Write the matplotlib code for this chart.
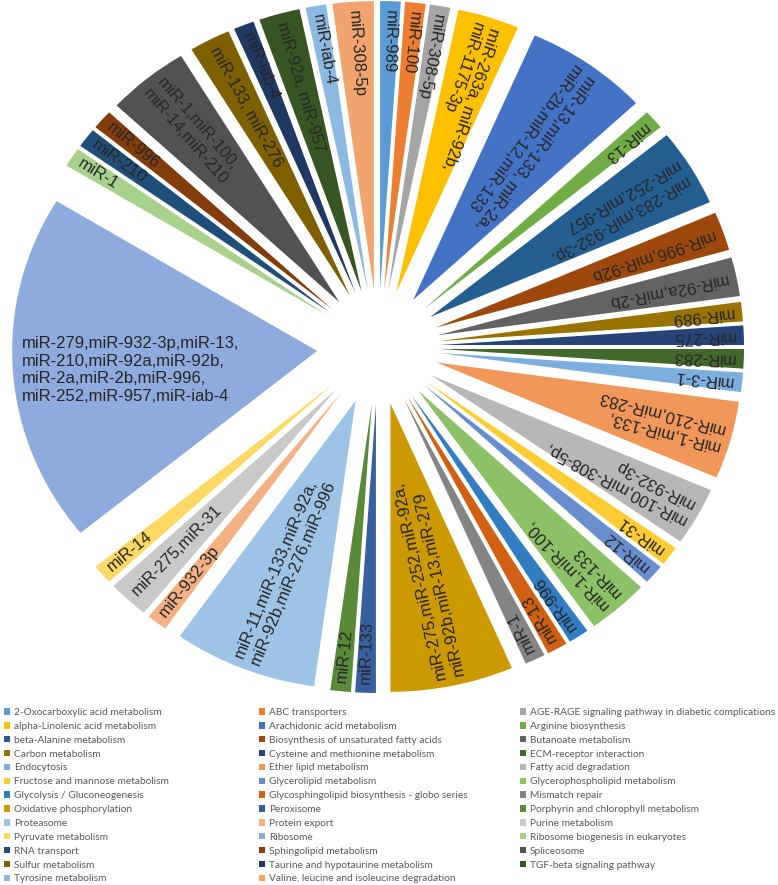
import matplotlib
matplotlib.use("Agg")
import numpy as np
import matplotlib.pyplot as plt
from matplotlib.patches import Patch

# pathways, in legend / slice order (clockwise from 12 o'clock)
pathways = [
    "2-Oxocarboxylic acid metabolism", "ABC transporters",
    "AGE-RAGE signaling pathway in diabetic complications",
    "alpha-Linolenic acid metabolism", "Arachidonic acid metabolism",
    "Arginine biosynthesis", "beta-Alanine metabolism",
    "Biosynthesis of unsaturated fatty acids", "Butanoate metabolism",
    "Carbon metabolism", "Cysteine and methionine metabolism",
    "ECM-receptor interaction", "Endocytosis", "Ether lipid metabolism",
    "Fatty acid degradation", "Fructose and mannose metabolism",
    "Glycerolipid metabolism", "Glycerophospholipid metabolism",
    "Glycolysis / Gluconeogenesis",
    "Glycosphingolipid biosynthesis - globo series", "Mismatch repair",
    "Oxidative phosphorylation", "Peroxisome",
    "Porphyrin and chlorophyll metabolism", "Proteasome", "Protein export",
    "Purine metabolism", "Pyruvate metabolism", "Ribosome",
    "Ribosome biogenesis in eukaryotes", "RNA transport",
    "Sphingolipid metabolism", "Spliceosome", "Sulfur metabolism",
    "Taurine and hypotaurine metabolism", "TGF-beta signaling pathway",
    "Tyrosine metabolism", "Valine, leucine and isoleucine degradation",
]

# slice sizes
counts = [1, 1, 1, 3, 6, 1, 4, 2, 2, 1, 1, 1, 1, 4, 3, 1, 1, 3, 1, 1, 1, 6, 1,
          1, 7, 1, 2, 1, 18, 1, 1, 1, 4, 2, 1, 2, 1, 2]

mirs = [
    "miR-989", "miR-100", "miR-308-5p",
    "miR-263a, miR-92b,\nmiR-1175-3p",
    "miR-13,miR-133, miR-2a,\nmiR-2b,miR-12,miR-133",
    "miR-13",
    "miR-283,miR-932-3p,\nmiR-252,miR-957",
    "miR-996,miR-92b", "miR-92a,miR-2b", "miR-989", "miR-275", "miR-283",
    "miR-3-1",
    "miR-1,miR-133,\nmiR-210,miR-283",
    "miR-100,miR-308-5p,\nmiR-932-3p",
    "miR-31", "miR-12",
    "miR-1,miR-100,\nmiR-133",
    "miR-996", "miR-13", "miR-1",
    "miR-275,miR-252,miR-92a,\nmiR-92b,miR-13,miR-279",
    "miR-133", "miR-12",
    "miR-11,miR-133,miR-92a,\nmiR-92b,miR-276,miR-996",
    "miR-932-3p", "miR-275,miR-31", "miR-14",
    "miR-279,miR-932-3p,miR-13,\nmiR-210,miR-92a,miR-92b,\nmiR-2a,miR-2b,miR-996,\nmiR-252,miR-957,miR-iab-4",
    "miR-1", "miR-210", "miR-996",
    "miR-1,miR-100,\nmiR-14,miR-210",
    "miR-133, miR-276", "miR-iab-4", "miR-92a, miR-957", "miR-iab-4",
    "miR-308-5p",
]

# office palette, cycling through tints/shades
colors = [
    "#5B9BD5", "#ED7D31", "#A5A5A5", "#FFC000", "#4472C4", "#70AD47",
    "#255E91", "#9E480E", "#636363", "#997300", "#264478", "#43682B",
    "#7CAFDD", "#F1975A", "#B7B7B7", "#FFCD33", "#698ED0", "#8CC168",
    "#327DC2", "#D26012", "#848484", "#CC9A00", "#3A5FA0", "#5A8A39",
    "#9DC3E6", "#F4B183", "#C9C9C9", "#FFD966", "#8FAADC", "#A9D18E",
    "#1F4E79", "#843C0C", "#525252", "#7F6000", "#203864", "#375623",
    "#8CB9E1", "#F2A46F",
]

W, H = 778, 885
fig = plt.figure(figsize=(W / 100, H / 100), dpi=100)

# pie envelope in pixels (the picture is slightly squashed vertically)
cx, cy, rx, ry = 378, 347, 366, 346
ax = fig.add_axes([(cx - rx) / W, 1 - (cy + ry) / H, 2 * rx / W, 2 * ry / H])

explode = 0.2
wedges, _ = ax.pie(counts, colors=colors, startangle=90, counterclock=False,
                   explode=[explode] * len(counts), radius=1.0,
                   wedgeprops=dict(linewidth=0))
lim = 1 + explode
ax.set_xlim(-lim, lim)
ax.set_ylim(-lim, lim)
ax.set_aspect("auto")
ax.axis("off")

sx, sy = rx / lim, ry / lim
for i, (w, txt) in enumerate(zip(wedges, mirs)):
    th = np.deg2rad((w.theta1 + w.theta2) / 2)
    x0, y0 = w.center
    r = w.r - 0.03
    x = x0 + r * np.cos(th)
    y = y0 + r * np.sin(th)
    # read from the rim towards the centre
    rot = np.degrees(np.arctan2(-np.sin(th) * sy, -np.cos(th) * sx))
    if pathways[i] == "Ribosome":
        rot = 0  # this one was left flat
    ax.text(x, y, txt, rotation=rot, rotation_mode="anchor", ha="left",
            va="center", multialignment="left", fontsize=12,
            color="#262626", family="Liberation Sans", linespacing=1.22)

# legend: three columns, filled row by row
handles = [Patch(facecolor=c, edgecolor="none") for c in colors]
cols_x = [4, 259, 520]
for k in range(3):
    idx = list(range(k, len(pathways), 3))
    fig.legend([handles[i] for i in idx], [pathways[i] for i in idx],
               loc="upper left", bbox_to_anchor=(cols_x[k] / W, 1 - 708 / H),
               frameon=False, borderpad=0, borderaxespad=0,
               handlelength=0.6, handleheight=0.6, handletextpad=0.4,
               labelspacing=0.48, prop=dict(family="Lato", size=7.3),
               labelcolor="#595959")

fig.savefig("out.png", dpi=100)
